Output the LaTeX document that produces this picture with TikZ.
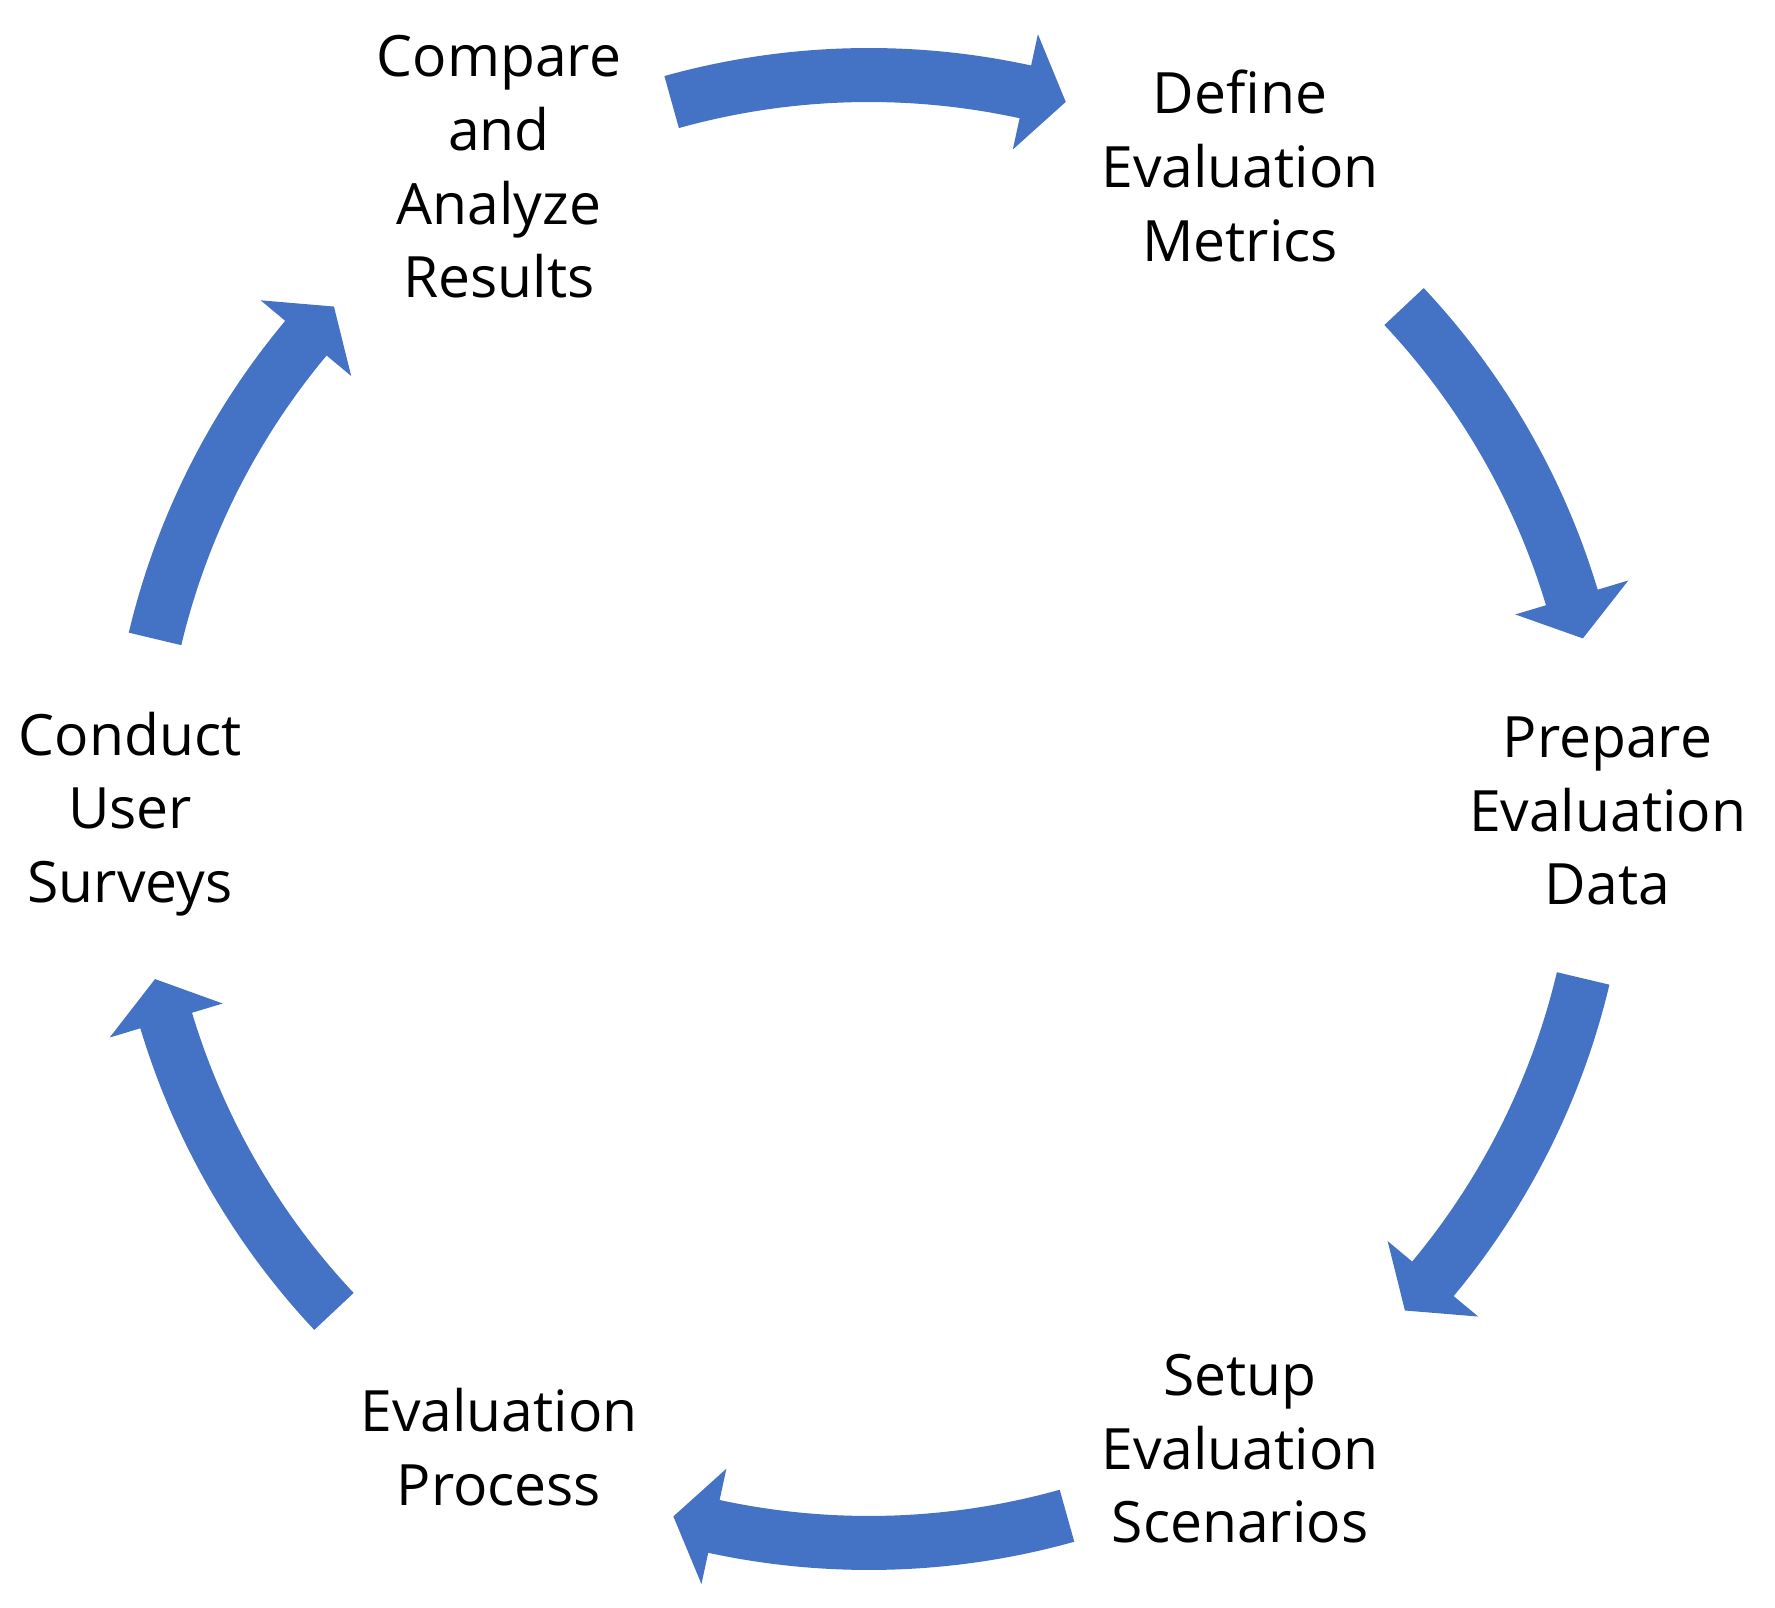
\documentclass[tikz,border=0pt]{standalone}
\usepackage{fontspec}
\setmainfont{Open Sans}
\usetikzlibrary{calc}
\definecolor{arrowblue}{HTML}{4472C4}
% #1 tail angle, #2 head base angle, #3 tip angle
\newcommand\cyclearrow[3]{%
  \fill[arrowblue] ($(O)+(#1:761pt)$) arc[start angle=#1, end angle=#2, radius=761pt]
    -- ($(O)+(#2:793pt)$) -- ($(O)+(#3:734pt)$) -- ($(O)+(#2:675pt)$)
    -- ($(O)+(#2:707pt)$) arc[start angle=#2, end angle=#1, radius=707pt] -- cycle;}
\begin{document}
\begin{tikzpicture}[x=1pt,y=1pt,
  steptext/.style={font=\fontsize{57pt}{73.6pt}\selectfont, align=center, inner sep=0pt, text=black}]
\useasboundingbox (0,0) rectangle (1775,1608);
\coordinate (O) at (869,799);
% text nodes
\node[steptext] (compare) at (499,1441) {Compare\\and\\Analyze\\Results};
\node[steptext] (define) at (1240,1442) {Define\\Evaluation\\Metrics};
\node[steptext] (prepare) at (1607.5,797) {Prepare\\Evaluation\\Data};
\node[steptext] (setup) at (1240,159) {Setup\\Evaluation\\Scenarios};
\node[steptext] (evalproc) at (499,161) {Evaluation\\Process};
\node[steptext] (conduct) at (130,794) {Conduct\\User\\Surveys};
% block arrows of the cycle
\cyclearrow{105.6}{77.7}{74.45}     % compare -> define
\cyclearrow{43.2}{16.75}{13.44}     % define -> prepare
\cyclearrow{-13.35}{-39.8}{-43.1}   % prepare -> setup
\cyclearrow{-74.35}{-102.2}{-105.46}% setup -> evalproc
\cyclearrow{-136.8}{-163.25}{-166.6}% evalproc -> conduct
\cyclearrow{166.6}{140.1}{136.8}    % conduct -> compare
\end{tikzpicture}
\end{document}
